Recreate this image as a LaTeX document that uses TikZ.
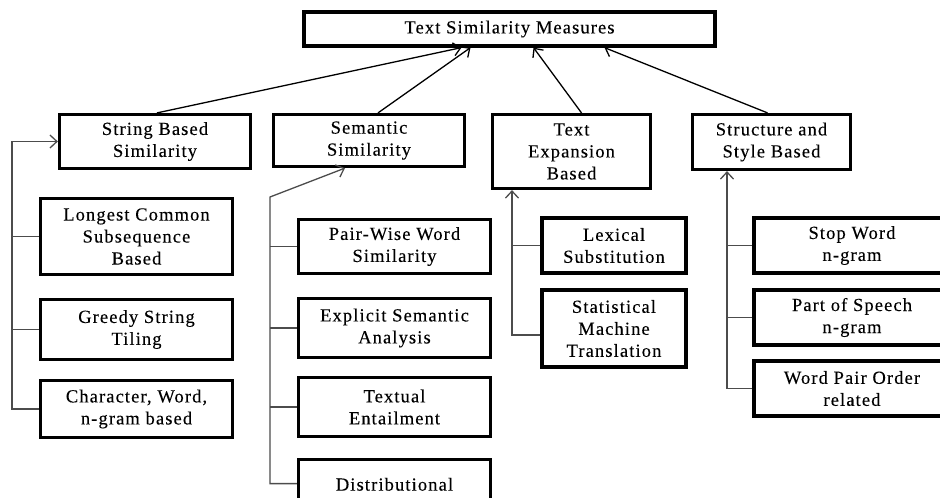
\documentclass[tikz,border=0pt]{standalone}
\usepackage{fontspec}
\setmainfont{Liberation Serif}[LetterSpace=6,FakeBold=0.15]
\usetikzlibrary{arrows.meta}
\newcommand{\boxfont}{\fontsize{18.5pt}{22pt}\selectfont}
\begin{document}
\begin{tikzpicture}[x=1pt,y=-1pt,
  box/.style={draw=black, line width=3.2pt, fill=white, align=center,
    inner sep=2pt, font=\boxfont},
  sz/.style 2 args={minimum width=#1, minimum height=#2},
  link/.style={draw=black, line width=1.3pt,
    -{Straight Barb[length=7pt,width=13pt,line width=1.3pt]}},
  branch/.style={draw=black!70, line width=1.3pt},
  spine/.style={draw=black!70, line width=1.3pt,
    -{Straight Barb[length=7pt,width=13pt,line width=1.3pt]}}]
\useasboundingbox (0,0) rectangle (940,498);

% root
\node[box, sz={411pt}{34pt}] (root) at (509.5,29) {Text Similarity Measures};

% first level categories
\node[box, sz={191pt}{54pt}] (sbs) at (155,141.5) {String Based\\Similarity};
\node[box, sz={191pt}{52pt}] (sem) at (369,140.5) {Semantic\\Similarity};
\node[box, sz={158pt}{74pt}] (tex) at (571.5,151.5) {Text\\Expansion\\Based};
\node[box, sz={158pt}{55pt}] (sty) at (771.5,142) {Structure and\\Style Based};

% string based members
\node[box, sz={192pt}{76pt}] (lcs) at (136.5,236.5) {Longest Common\\Subsequence\\Based};
\node[box, sz={192pt}{60pt}] (gst) at (136.5,329.5) {Greedy String\\Tiling};
\node[box, sz={192pt}{57pt}] (chr) at (136.5,409) {Character, Word,\\n-gram based};

% semantic members
\node[box, sz={192pt}{54pt}] (pws) at (394.5,246.5) {Pair-Wise Word\\Similarity};
\node[box, sz={192pt}{59pt}] (esa) at (394.5,328) {Explicit Semantic\\Analysis};
\node[box, sz={192pt}{59pt}] (ten) at (394.5,407) {Textual\\Entailment};
\node[box, sz={192pt}{62pt}, anchor=north, inner ysep=6pt,
  text height=24pt, text depth=24pt] (dis) at (394.5,458) {Distributional};

% text expansion members
\node[box, sz={144pt}{55pt}] (lex) at (614,245.5) {Lexical\\Substitution};
\node[box, sz={144pt}{77pt}] (smt) at (614,328.5) {Statistical\\Machine\\Translation};

% structure and style members
\node[box, sz={196pt}{55pt}] (swn) at (852,245.5) {Stop Word\\n-gram};
\node[box, sz={196pt}{55pt}] (pos) at (852,317.5) {Part of Speech\\n-gram};
\node[box, sz={196pt}{55pt}] (wpo) at (852,388.5) {Word Pair Order\\related};

% categories to root
\draw[link] ([xshift=2pt]sbs.north) -- ([xshift=-48pt]root.south);
\draw[link] ([xshift=9pt]sem.north) -- ([xshift=-39pt]root.south);
\draw[link] ([xshift=10pt]tex.north) -- ([xshift=24pt]root.south);
\draw[link] ([xshift=-4pt]sty.north) -- ([xshift=95pt]root.south);

% string based tree
\coordinate (sx) at (12,406);
\draw[spine] (chr.west) -- (chr.west -| sx) |- (sbs.west);
\draw[branch] (lcs.west) -- (lcs.west -| sx);
\draw[branch] (gst.west) -- (gst.west -| sx);

% semantic tree
\coordinate (mx) at (270,197);
\draw[spine] ([yshift=7pt]dis.west) -| (mx) -- ([xshift=-24pt]sem.south);
\draw[branch] (pws.west) -- (pws.west -| mx);
\draw[branch] (esa.west) -- (esa.west -| mx);
\draw[branch] (ten.west) -- (ten.west -| mx);

% text expansion tree
\draw[spine] ([yshift=-6.5pt]smt.west) -| ([xshift=-59.5pt]tex.south);
\coordinate (tx) at (512,0);
\draw[branch] (lex.west) -- (lex.west -| tx);

% structure and style tree
\draw[spine] (wpo.west) -| ([xshift=-44.5pt]sty.south);
\coordinate (yx) at (727,0);
\draw[branch] (swn.west) -- (swn.west -| yx);
\draw[branch] (pos.west) -- (pos.west -| yx);
\end{tikzpicture}
\end{document}
